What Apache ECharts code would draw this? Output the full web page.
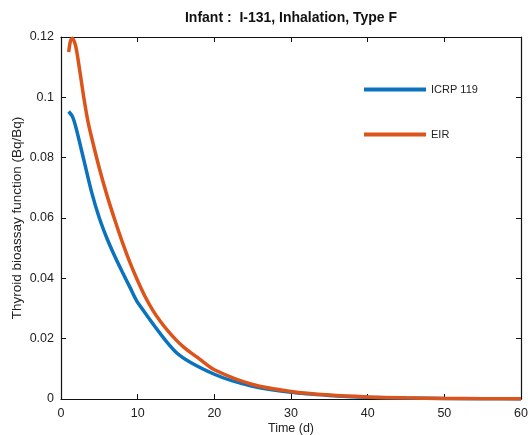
<!DOCTYPE html>
<html>
<head>
<meta charset="utf-8">
<title>Infant : I-131, Inhalation, Type F</title>
<script src="https://cdn.jsdelivr.net/npm/echarts@6/dist/echarts.min.js"></script>
<style>
  html, body { margin: 0; padding: 0; background: #fff; }
  #chart { width: 528px; height: 435px; }
</style>
</head>
<body>
<div id="chart"></div>
<script>
// time in days
const icrpTime = [1, 1.5, 2, 3, 4, 5, 6, 7, 8, 9, 10, 15, 20, 25, 30, 35, 40, 45, 50, 55, 60]
const icrpValues = [0.0953, 0.0936, 0.0895, 0.0790, 0.0685, 0.0600, 0.0532, 0.0474, 0.0421, 0.0370, 0.0320,
  0.0155, 0.0082, 0.0042, 0.0022, 0.0012, 0.0006, 0.0003, 0.00015, 0.00008, 0.00004]

const eirTime = [1, 1.25, 1.5, 1.75, 2, 2.5, 3, 3.5, 4, 5, 6, 7, 8, 9, 10, 11, 12, 13, 14, 15, 16, 17, 18, 20,
  25, 30, 35, 40, 45, 50, 55, 60]
const eirValues = [0.1150, 0.1188, 0.1196, 0.1184, 0.1160, 0.1080, 0.0995, 0.0922, 0.0866, 0.0765, 0.0675, 0.0595,
  0.0520, 0.0452, 0.0392, 0.0338, 0.0293, 0.0256, 0.0224, 0.0196, 0.0172, 0.0152, 0.0134, 0.0097,
  0.0048, 0.0025, 0.0013, 0.0007, 0.0004, 0.0002, 0.0001, 0.00005]

const xTicks = [0, 10, 20, 30, 40, 50, 60]
const yTicks = [0, 0.02, 0.04, 0.06, 0.08, 0.1, 0.12]

const font = 'Liberation Sans, Arial, Helvetica, sans-serif'
const blue = '#0b72bd'
const orange = '#dc5419'

function pairs(xs, ys) {
  return xs.map((x, i) => [x, ys[i]])
}

const chart = echarts.init(document.getElementById('chart'), null, { renderer: 'canvas' })

const tickStyle = { show: true, inside: true, length: 5, lineStyle: { color: '#111', width: 1 } }
const lineStyle = { show: true, onZero: false, lineStyle: { color: '#111', width: 1.2 } }

chart.setOption({
  animation: false,
  backgroundColor: '#fff',
  title: {
    text: 'Infant :  I-131, Inhalation, Type F',
    left: 286,
    textAlign: 'center',
    top: 6,
    textStyle: { fontFamily: font, fontSize: 14, fontWeight: 'bold', color: '#111' }
  },
  legend: {
    orient: 'vertical',
    left: 359,
    top: 79,
    itemWidth: 62,
    itemHeight: 4,
    itemGap: 34,
    icon: 'rect',
    textStyle: { fontFamily: font, fontSize: 11, color: '#222', padding: [0, 0, 0, 0] },
    data: ['ICRP 119', 'EIR']
  },
  grid: { left: 61, right: 7, top: 37, bottom: 36, containLabel: false, outerBoundsMode: 'none' },
  xAxis: [{
    type: 'value',
    min: xTicks[0],
    max: xTicks[xTicks.length - 1],
    interval: 10,
    name: 'Time (d)',
    nameLocation: 'middle',
    nameGap: 23,
    nameMoveOverlap: false,
    nameTextStyle: { fontFamily: font, fontSize: 12.5, color: '#222' },
    axisLine: lineStyle,
    axisTick: tickStyle,
    axisLabel: { fontFamily: font, fontSize: 12.5, color: '#222', margin: 8 },
    splitLine: { show: false }
  }, {
    type: 'value',
    position: 'top',
    min: xTicks[0],
    max: xTicks[xTicks.length - 1],
    interval: 10,
    axisLine: lineStyle,
    axisTick: tickStyle,
    axisLabel: { show: false },
    splitLine: { show: false }
  }],
  yAxis: [{
    type: 'value',
    min: yTicks[0],
    max: yTicks[yTicks.length - 1],
    interval: 0.02,
    name: 'Thyroid bioassay function (Bq/Bq)',
    nameLocation: 'middle',
    nameGap: 37,
    nameMoveOverlap: false,
    nameTextStyle: { fontFamily: font, fontSize: 13.5, color: '#222' },
    axisLine: lineStyle,
    axisTick: tickStyle,
    axisLabel: {
      fontFamily: font,
      fontSize: 12.5,
      color: '#222',
      margin: 7,
      formatter: (v) => String(parseFloat(v.toFixed(2)))
    },
    splitLine: { show: false }
  }, {
    type: 'value',
    position: 'right',
    min: yTicks[0],
    max: yTicks[yTicks.length - 1],
    interval: 0.02,
    axisLine: lineStyle,
    axisTick: tickStyle,
    axisLabel: { show: false },
    splitLine: { show: false }
  }],
  series: [{
    name: 'ICRP 119',
    type: 'line',
    showSymbol: false,
    symbol: 'none',
    smooth: 0.25,
    color: blue,
    lineStyle: { width: 3.5, color: blue },
    data: pairs(icrpTime, icrpValues)
  }, {
    name: 'EIR',
    type: 'line',
    showSymbol: false,
    symbol: 'none',
    smooth: 0.3,
    color: orange,
    lineStyle: { width: 3.5, color: orange },
    data: pairs(eirTime, eirValues)
  }]
})
</script>
</body>
</html>
